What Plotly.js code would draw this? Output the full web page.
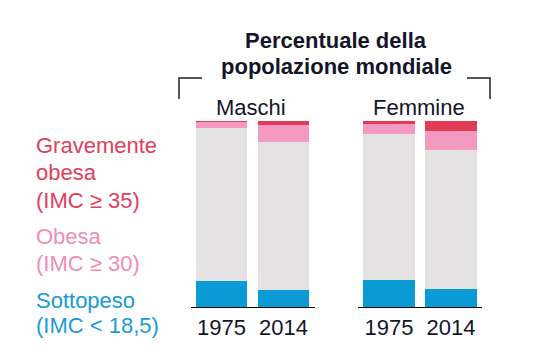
<!DOCTYPE html>
<html>
<head>
<meta charset="utf-8">
<script src="https://cdn.plot.ly/plotly-3.0.1.min.js"></script>
<style>html,body{margin:0;padding:0;background:#fff;}#chart{width:558px;height:363px;}</style>
</head>
<body>
<div id="chart"></div>
<script>
// Data (percent of population)
const years = ["1975", "2014"];
const groups = ["Maschi", "Femmine"];
const sottopeso = { Maschi: [14.0, 9.0], Femmine: [14.5, 9.7] };
const normale   = { Maschi: [82.4, 79.8], Femmine: [78.5, 74.7] };
const obesa     = { Maschi: [3.0, 9.0],  Femmine: [5.4, 10.2] };
const grave     = { Maschi: [0.6, 2.2],  Femmine: [1.6, 5.4] };
const titleLines = ["Percentuale della", "popolazione mondiale"];
const legendGrave = ["Gravemente", "obesa", "(IMC \u2265 35)"];
const legendObesa = ["Obesa", "(IMC \u2265 30)"];
const legendSotto = ["Sottopeso", "(IMC < 18,5)"];

const W = 558, H = 363;
const plotTop = 121, plotBottom = 307;
const px = x => x / W;
const py = y => (plotBottom - y) / (plotBottom - plotTop);

const colors = { sotto: "#0a9ad6", norm: "#e4e2e2", obesa: "#f499c1", grave: "#e23b56" };
const txtDark = "#15152a";

const traces = [];
groups.forEach((g, i) => {
  const xa = i === 0 ? "x" : "x2";
  const ya = i === 0 ? "y" : "y2";
  [[sottopeso, colors.sotto], [normale, colors.norm], [obesa, colors.obesa], [grave, colors.grave]].forEach(([d, c]) => {
    traces.push({ type: "bar", x: years, y: d[g], xaxis: xa, yaxis: ya,
      marker: { color: c, line: { width: 0 } }, hoverinfo: "skip", showlegend: false });
  });
});

const axX = dom => ({ domain: dom, type: "category", showline: true, linecolor: "#000", linewidth: 1.2,
  ticks: "", showgrid: false, zeroline: false, fixedrange: true,
  tickfont: { family: "Liberation Sans, Arial, sans-serif", size: 22, color: txtDark } });
const axY = { range: [0, 100], visible: false, showgrid: false, zeroline: false, fixedrange: true };

const ann = [];
const font = (size, color) => ({ family: "Liberation Sans, Arial, sans-serif", size: size, color: color });
titleLines.forEach((t, i) => {
  ann.push({ text: "<b>" + t + "</b>", xref: "paper", yref: "paper", x: px(336), y: py([41, 66][i]),
    xanchor: "center", yanchor: "middle", showarrow: false, font: font(22, txtDark) });
});
ann.push({ text: groups[0], xref: "paper", yref: "paper", x: px(251), y: py(107), xanchor: "center", yanchor: "middle", showarrow: false, font: font(22, txtDark) });
ann.push({ text: groups[1], xref: "paper", yref: "paper", x: px(419), y: py(107), xanchor: "center", yanchor: "middle", showarrow: false, font: font(22, txtDark) });
const addLines = (lines, ys, color) => lines.forEach((t, i) => ann.push({ text: t, xref: "paper", yref: "paper",
  x: px(34), y: py(ys[i]), xanchor: "left", yanchor: "middle", showarrow: false, font: font(22, color) }));
addLines(legendGrave, [145, 172, 200], "#e0405a");
addLines(legendObesa, [236, 263], "#f08cb6");
addLines(legendSotto, [300, 325], "#1a9ad6");

const shapes = [
  { type: "path", xref: "paper", yref: "paper",
    path: `M ${px(179)} ${py(99)} L ${px(179)} ${py(78)} L ${px(202)} ${py(78)}`, line: { color: "#222", width: 1.5 } },
  { type: "path", xref: "paper", yref: "paper",
    path: `M ${px(467)} ${py(78)} L ${px(490)} ${py(78)} L ${px(490)} ${py(99)}`, line: { color: "#222", width: 1.5 } }
];

const layout = {
  width: W, height: H, margin: { l: 0, r: 0, t: plotTop, b: H - plotBottom, pad: 0 },
  paper_bgcolor: "#fff", plot_bgcolor: "#fff", barmode: "stack", bargap: 0.17,
  xaxis: axX([px(190.5), px(314.5)]), yaxis: Object.assign({ anchor: "x" }, axY),
  xaxis2: axX([px(358), px(482)]), yaxis2: Object.assign({ anchor: "x2" }, axY),
  annotations: ann, shapes: shapes, showlegend: false
};
layout.xaxis.anchor = "y"; layout.xaxis2.anchor = "y2";
Plotly.newPlot("chart", traces, layout, { staticPlot: true, displayModeBar: false });
</script>
</body>
</html>
